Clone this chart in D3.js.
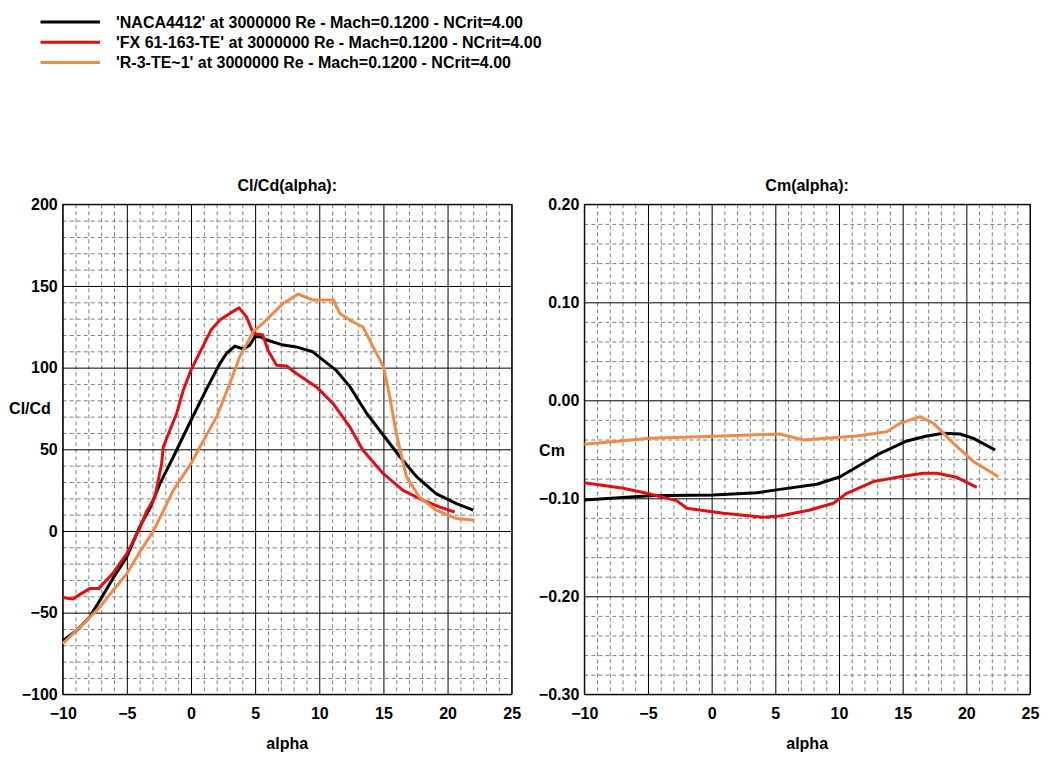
<!DOCTYPE html>
<html>
<head>
<meta charset="utf-8">
<script src="https://cdn.jsdelivr.net/npm/d3@7/dist/d3.min.js"></script>
<style>
  body { margin: 0; background: #fff; }
  svg { font-family: "Liberation Sans", Arial, sans-serif; font-weight: bold; }
  .minor line { stroke: #808080; stroke-dasharray: 4,3; }
  .major line { stroke: #000; }
  .domain { display: none; }
</style>
</head>
<body>
<div id="chart"></div>
<script>
// Series names and colours
var names = ["'NACA4412' at 3000000 Re - Mach=0.1200 - NCrit=4.00",
             "'FX 61-163-TE' at 3000000 Re - Mach=0.1200 - NCrit=4.00",
             "'R-3-TE~1' at 3000000 Re - Mach=0.1200 - NCrit=4.00"];
var colors = ["#000000", "#dd1111", "#f08a4b"];

// Cl/Cd(alpha)
var naca_clcd = [[-10,-67.4],[-8.9,-60.8],[-7.9,-52.7],[-7.1,-42.5],[-6.1,-29.2],[-5,-15.9],[-4,2.5],
  [-3.2,14],[-2.42,29],[-1.38,45.3],[0,67.8],[1.3,88.2],[2.25,102.5],[2.77,108.7],[3.42,113.2],
  [4.07,111.4],[4.59,113.8],[4.98,118.9],[5.4,119],[5.9,116.9],[7.2,113.8],[8.2,112.7],[9.5,109.7],
  [10.3,104.6],[11.3,98.5],[12.4,88.2],[13.7,71.9],[15,58.6],[16.3,45.3],[17.6,33.1],[19.1,22.9],
  [20.7,16.8],[22,12.7]];
var fx_clcd = [[-10,-40.8],[-9.2,-41.6],[-8.65,-38.8],[-7.9,-35.3],[-7.2,-35.3],[-6.1,-26.1],[-5,-13.9],
  [-4,1.5],[-3.46,12],[-2.81,20.8],[-2.29,41.2],[-2.16,51.5],[-1.12,71.9],[-0.6,86.2],[0,98.5],
  [0.78,110.7],[1.56,123],[2.25,129.1],[3.03,133.2],[3.75,136.6],[4.33,131.1],[4.85,121],[5.6,120],
  [6,110.7],[6.67,101.5],[7.45,101],[8.22,96.4],[9.78,88.2],[11.08,78],[12.38,63.7],[13.41,49.4],
  [14.97,35.2],[16.53,24.9],[18.08,18.8],[19.38,14.7],[20.55,11.6]];
var r3_clcd = [[-10,-69],[-8.65,-58.8],[-7.1,-46.6],[-6.06,-36.3],[-5,-26.1],[-4,-13],[-2.9,0.4],
  [-1.38,24.9],[0,41.2],[0.7,51.5],[2,69.9],[3.03,90.3],[3.8,106.6],[4.85,122],[5.6,127.1],
  [7.18,139.3],[8.35,145],[9.5,141.4],[11.1,141.4],[11.6,133.2],[12.6,128.1],[13.4,125],[14.2,112.7],
  [15,100.5],[15.5,82.1],[16,59.7],[16.8,33.1],[17.8,20.8],[19.1,12.7],[20.7,7.6],[22.1,6.6]];

// Cm(alpha)
var naca_cm = [[-10,-0.1017],[-4.84,-0.0973],[0.13,-0.0966],[3.54,-0.0943],[5.37,-0.0909],[8.26,-0.0857],
  [10.09,-0.078],[11.66,-0.066],[13.23,-0.0541],[15.33,-0.0415],[16.9,-0.0364],[18.2,-0.0337],
  [19.51,-0.0344],[20.56,-0.0388],[22.26,-0.0507]];
var fx_cm = [[-10,-0.0841],[-6.94,-0.0898],[-4.84,-0.0956],[-2.74,-0.1024],[-1.96,-0.1102],[0.92,-0.1153],
  [4.06,-0.1194],[5.37,-0.118],[7.73,-0.1119],[9.56,-0.1051],[10.61,-0.0949],[12.7,-0.083],
  [14.8,-0.078],[16.63,-0.0745],[17.68,-0.0745],[19.25,-0.0786],[20.82,-0.0888]];
var r3_cm = [[-10,-0.0449],[-4.84,-0.0388],[-0.38,-0.037],[5.37,-0.0344],[7.2,-0.0405],[11.4,-0.0364],
  [13.75,-0.032],[14.8,-0.0235],[16.37,-0.0167],[17.42,-0.0235],[18.99,-0.0439],[20.56,-0.0626],
  [22.52,-0.078]];

// Axis ticks
var alphaTicks = [-10, -5, 0, 5, 10, 15, 20, 25];
var clcdTicks = [-100, -50, 0, 50, 100, 150, 200];
var cmTicks = [-0.30, -0.20, -0.10, 0.00, 0.10, 0.20];

var svg = d3.select("#chart").append("svg")
    .attr("width", 1056)
    .attr("height", 761);

// Legend
var legend = svg.append("g").attr("class", "legend");
names.forEach(function(n, i) {
    var y = 22 + i * 20.3;
    legend.append("line")
        .attr("x1", 40.5).attr("x2", 100)
        .attr("y1", y).attr("y2", y)
        .attr("stroke", colors[i]).attr("stroke-width", 3);
    legend.append("text")
        .attr("x", 116).attr("y", y + 5.6)
        .style("font-size", "16px")
        .text(n);
});

function panel(opt) {
    var x = d3.scaleLinear().domain([-10, 25]).range([opt.left, opt.right]);
    var y = d3.scaleLinear().domain(opt.domain).range([694.3, 204.3]);
    var h = 694.3 - 204.3, w = opt.right - opt.left;
    var g = svg.append("g");

    // minor dashed grid
    g.append("g").attr("class", "minor")
        .attr("transform", "translate(0,204.3)")
        .call(d3.axisBottom(x).tickValues(d3.range(-9, 25, 1).filter(function(d){ return d % 5 !== 0; }))
            .tickSize(h).tickFormat(""));
    g.append("g").attr("class", "minor")
        .attr("transform", "translate(" + opt.left + ",0)")
        .call(d3.axisRight(y).tickValues(opt.minor).tickSize(w).tickFormat(""));

    // major solid grid
    g.append("g").attr("class", "major")
        .attr("transform", "translate(0,204.3)")
        .call(d3.axisBottom(x).tickValues(alphaTicks).tickSize(h).tickFormat(""));
    g.append("g").attr("class", "major")
        .attr("transform", "translate(" + opt.left + ",0)")
        .call(d3.axisRight(y).tickValues(opt.ticks).tickSize(w).tickFormat(""));

    g.selectAll(".tick text").remove();

    // frame
    g.append("rect")
        .attr("x", opt.left).attr("y", 204.3)
        .attr("width", w).attr("height", h)
        .attr("fill", "none").attr("stroke", "#000");

    // tick labels
    var ax = g.append("g")
        .attr("transform", "translate(0,694.3)")
        .call(d3.axisBottom(x).tickValues(alphaTicks).tickSize(0).tickPadding(13));
    ax.selectAll("text").style("font-size", "16px").attr("fill", "#000").attr("font-weight", "bold");
    var ay = g.append("g")
        .attr("transform", "translate(" + opt.left + ",0)")
        .call(d3.axisLeft(y).tickValues(opt.ticks).tickSize(0).tickPadding(5).tickFormat(opt.fmt));
    ay.selectAll("text").style("font-size", "16px").attr("fill", "#000").attr("font-weight", "bold");
    g.selectAll(".domain").remove();

    // titles
    g.append("text").attr("x", (opt.left + opt.right) / 2).attr("y", 191)
        .attr("text-anchor", "middle").style("font-size", "16px").text(opt.title);
    g.append("text").attr("x", (opt.left + opt.right) / 2).attr("y", 749)
        .attr("text-anchor", "middle").style("font-size", "16px").text("alpha");
    g.append("text").attr("x", opt.ylabX).attr("y", opt.ylabY)
        .attr("text-anchor", "middle").style("font-size", "16px").text(opt.ylabel);

    // curves
    var line = d3.line().x(function(d){ return x(d[0]); }).y(function(d){ return y(d[1]); });
    opt.series.forEach(function(s, i) {
        g.append("path")
            .datum(s)
            .attr("d", line)
            .attr("fill", "none")
            .attr("stroke", colors[i])
            .attr("stroke-width", 3)
            .attr("stroke-linejoin", "round");
    });
}

panel({
    left: 62.7, right: 511.7,
    domain: [-100, 200],
    ticks: clcdTicks,
    minor: d3.range(-90, 200, 10).filter(function(d){ return d % 50 !== 0; }),
    fmt: d3.format("d"),
    title: "Cl/Cd(alpha):",
    ylabel: "Cl/Cd", ylabX: 30, ylabY: 414,
    series: [naca_clcd, fx_clcd, r3_clcd]
});

panel({
    left: 584.3, right: 1030,
    domain: [-0.3, 0.2],
    ticks: cmTicks,
    minor: d3.range(-28, 20, 2).filter(function(d){ return d % 10 !== 0; }).map(function(d){ return d / 100; }),
    fmt: d3.format(".2f"),
    title: "Cm(alpha):",
    ylabel: "Cm", ylabX: 552, ylabY: 456,
    series: [naca_cm, fx_cm, r3_cm]
});
</script>
</body>
</html>
